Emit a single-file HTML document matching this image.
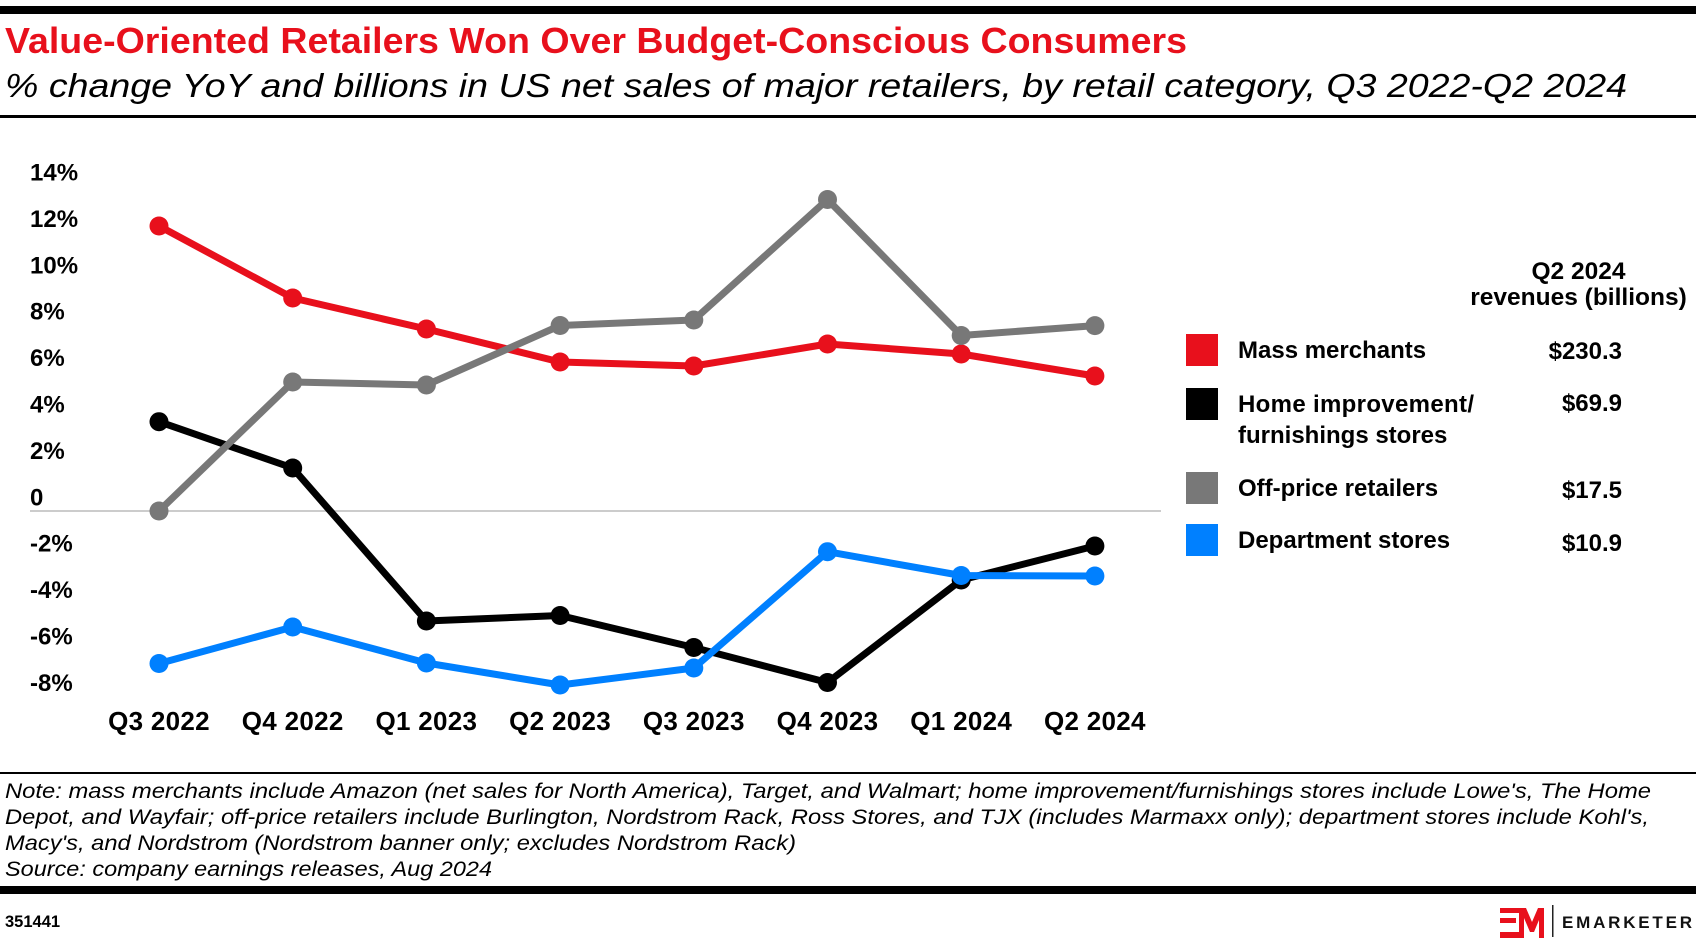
<!DOCTYPE html>
<html>
<head>
<meta charset="utf-8">
<style>
  html, body { margin:0; padding:0; background:#fff; }
  body { width:1696px; height:944px; overflow:hidden; }
  svg { display:block; font-family:"Liberation Sans", Arial, sans-serif; }
</style>
</head>
<body>
<svg width="1696" height="944" viewBox="0 0 1696 944" xmlns="http://www.w3.org/2000/svg">
  <rect width="1696" height="944" fill="#ffffff"/>

  <!-- header -->
  <rect x="0" y="6" width="1696" height="8" fill="#000"/>
  <text x="5" y="53" font-size="36" font-weight="bold" fill="#e8101c" textLength="1182" lengthAdjust="spacingAndGlyphs">Value-Oriented Retailers Won Over Budget-Conscious Consumers</text>
  <text x="5" y="97" font-size="33" font-style="italic" fill="#000" textLength="1622" lengthAdjust="spacingAndGlyphs">% change YoY and billions in US net sales of major retailers, by retail category, Q3 2022-Q2 2024</text>
  <rect x="0" y="115" width="1696" height="3" fill="#000"/>

  <!-- y axis labels -->
  <g font-size="24" font-weight="bold" fill="#000">
    <text x="30" y="180.5">14%</text>
    <text x="30" y="226.9">12%</text>
    <text x="30" y="273.3">10%</text>
    <text x="30" y="319.7">8%</text>
    <text x="30" y="366.1">6%</text>
    <text x="30" y="412.5">4%</text>
    <text x="30" y="458.9">2%</text>
    <text x="30" y="505.3">0</text>
    <text x="30" y="551.7">-2%</text>
    <text x="30" y="598.1">-4%</text>
    <text x="30" y="644.5">-6%</text>
    <text x="30" y="690.9">-8%</text>
  </g>

  <!-- zero gridline -->
  <line x1="30" y1="511" x2="1161" y2="511" stroke="#cccccc" stroke-width="2"/>

  <!-- series: red (mass merchants) -->
  <g fill="#e8101c">
    <polyline fill="none" stroke="#e8101c" stroke-width="7" stroke-linejoin="round" stroke-linecap="round"
      points="159,226 292.7,298 426.4,329 560.1,362 693.8,366 827.5,344 961.2,354 1094.9,376"/>
    <circle cx="159" cy="226" r="9.5"/>
    <circle cx="292.7" cy="298" r="9.5"/>
    <circle cx="426.4" cy="329" r="9.5"/>
    <circle cx="560.1" cy="362" r="9.5"/>
    <circle cx="693.8" cy="366" r="9.5"/>
    <circle cx="827.5" cy="344" r="9.5"/>
    <circle cx="961.2" cy="354" r="9.5"/>
    <circle cx="1094.9" cy="376" r="9.5"/>
  </g>

  <!-- series: black (home improvement) -->
  <g fill="#000">
    <polyline fill="none" stroke="#000" stroke-width="7" stroke-linejoin="round" stroke-linecap="round"
      points="159,421.7 292.7,468 426.4,621 560.1,615.5 693.8,647.5 827.5,682.5 961.2,580 1094.9,546"/>
    <circle cx="159" cy="421.7" r="9.5"/>
    <circle cx="292.7" cy="468" r="9.5"/>
    <circle cx="426.4" cy="621" r="9.5"/>
    <circle cx="560.1" cy="615.5" r="9.5"/>
    <circle cx="693.8" cy="647.5" r="9.5"/>
    <circle cx="827.5" cy="682.5" r="9.5"/>
    <circle cx="961.2" cy="580" r="9.5"/>
    <circle cx="1094.9" cy="546" r="9.5"/>
  </g>

  <!-- series: gray (off-price) -->
  <g fill="#787878">
    <polyline fill="none" stroke="#787878" stroke-width="7" stroke-linejoin="round" stroke-linecap="round"
      points="159,511 292.7,382 426.4,385 560.1,325.5 693.8,320 827.5,199.5 961.2,335.5 1094.9,325.6"/>
    <circle cx="159" cy="511" r="9.5"/>
    <circle cx="292.7" cy="382" r="9.5"/>
    <circle cx="426.4" cy="385" r="9.5"/>
    <circle cx="560.1" cy="325.5" r="9.5"/>
    <circle cx="693.8" cy="320" r="9.5"/>
    <circle cx="827.5" cy="199.5" r="9.5"/>
    <circle cx="961.2" cy="335.5" r="9.5"/>
    <circle cx="1094.9" cy="325.6" r="9.5"/>
  </g>

  <!-- series: blue (department stores) -->
  <g fill="#0080ff">
    <polyline fill="none" stroke="#0080ff" stroke-width="7" stroke-linejoin="round" stroke-linecap="round"
      points="159,663.5 292.7,627 426.4,663 560.1,685 693.8,668 827.5,551.7 961.2,575.5 1094.9,576"/>
    <circle cx="159" cy="663.5" r="9.5"/>
    <circle cx="292.7" cy="627" r="9.5"/>
    <circle cx="426.4" cy="663" r="9.5"/>
    <circle cx="560.1" cy="685" r="9.5"/>
    <circle cx="693.8" cy="668" r="9.5"/>
    <circle cx="827.5" cy="551.7" r="9.5"/>
    <circle cx="961.2" cy="575.5" r="9.5"/>
    <circle cx="1094.9" cy="576" r="9.5"/>
  </g>

  <!-- x axis labels -->
  <g font-size="26" font-weight="bold" fill="#000" text-anchor="middle" letter-spacing="0.3">
    <text x="159" y="730">Q3 2022</text>
    <text x="292.7" y="730">Q4 2022</text>
    <text x="426.4" y="730">Q1 2023</text>
    <text x="560.1" y="730">Q2 2023</text>
    <text x="693.8" y="730">Q3 2023</text>
    <text x="827.5" y="730">Q4 2023</text>
    <text x="961.2" y="730">Q1 2024</text>
    <text x="1094.9" y="730">Q2 2024</text>
  </g>

  <!-- legend -->
  <g font-size="24.5" font-weight="bold" fill="#000" text-anchor="middle">
    <text x="1578.5" y="279">Q2 2024</text>
    <text x="1578.5" y="305">revenues (billions)</text>
  </g>
  <rect x="1186" y="334" width="32" height="32" fill="#e8101c"/>
  <rect x="1186" y="388" width="32" height="32" fill="#000"/>
  <rect x="1186" y="472" width="32" height="32" fill="#787878"/>
  <rect x="1186" y="524" width="32" height="32" fill="#0080ff"/>
  <g font-size="24" font-weight="bold" fill="#000">
    <text x="1238" y="358">Mass merchants</text>
    <text x="1238" y="412" textLength="236" lengthAdjust="spacing">Home improvement/</text>
    <text x="1238" y="443">furnishings stores</text>
    <text x="1238" y="496">Off-price retailers</text>
    <text x="1238" y="548">Department stores</text>
  </g>
  <g font-size="24" font-weight="bold" fill="#000" text-anchor="end">
    <text x="1622" y="359">$230.3</text>
    <text x="1622" y="411">$69.9</text>
    <text x="1622" y="498">$17.5</text>
    <text x="1622" y="551">$10.9</text>
  </g>

  <!-- footer -->
  <rect x="0" y="772" width="1696" height="2" fill="#000"/>
  <g font-size="21" font-style="italic" fill="#000">
    <text x="5" y="798" textLength="1646" lengthAdjust="spacingAndGlyphs">Note: mass merchants include Amazon (net sales for North America), Target, and Walmart; home improvement/furnishings stores include Lowe's, The Home</text>
    <text x="5" y="824" textLength="1644" lengthAdjust="spacingAndGlyphs">Depot, and Wayfair; off-price retailers include Burlington, Nordstrom Rack, Ross Stores, and TJX (includes Marmaxx only); department stores include Kohl's,</text>
    <text x="5" y="850" textLength="791" lengthAdjust="spacingAndGlyphs">Macy's, and Nordstrom (Nordstrom banner only; excludes Nordstrom Rack)</text>
    <text x="5" y="876" textLength="487" lengthAdjust="spacingAndGlyphs">Source: company earnings releases, Aug 2024</text>
  </g>
  <rect x="0" y="886" width="1696" height="8" fill="#000"/>

  <text x="5" y="927" font-size="16.5" font-weight="bold" fill="#000">351441</text>

  <!-- EM logo -->
  <g fill="#e8101c">
    <rect x="1500" y="908" width="20" height="5"/>
    <rect x="1500" y="918" width="16" height="5"/>
    <rect x="1500" y="932" width="20" height="6"/>
    <polygon points="1519,908 1526,908 1532,922 1538,908 1544,908 1544,938 1539,938 1539,920 1534,932 1530,932 1524,918 1524,938 1519,938"/>
  </g>
  <rect x="1552" y="905" width="1.5" height="32" fill="#222"/>
  <text x="1562" y="928" font-size="17" font-weight="bold" fill="#111" textLength="130" lengthAdjust="spacing">EMARKETER</text>
</svg>
</body>
</html>
